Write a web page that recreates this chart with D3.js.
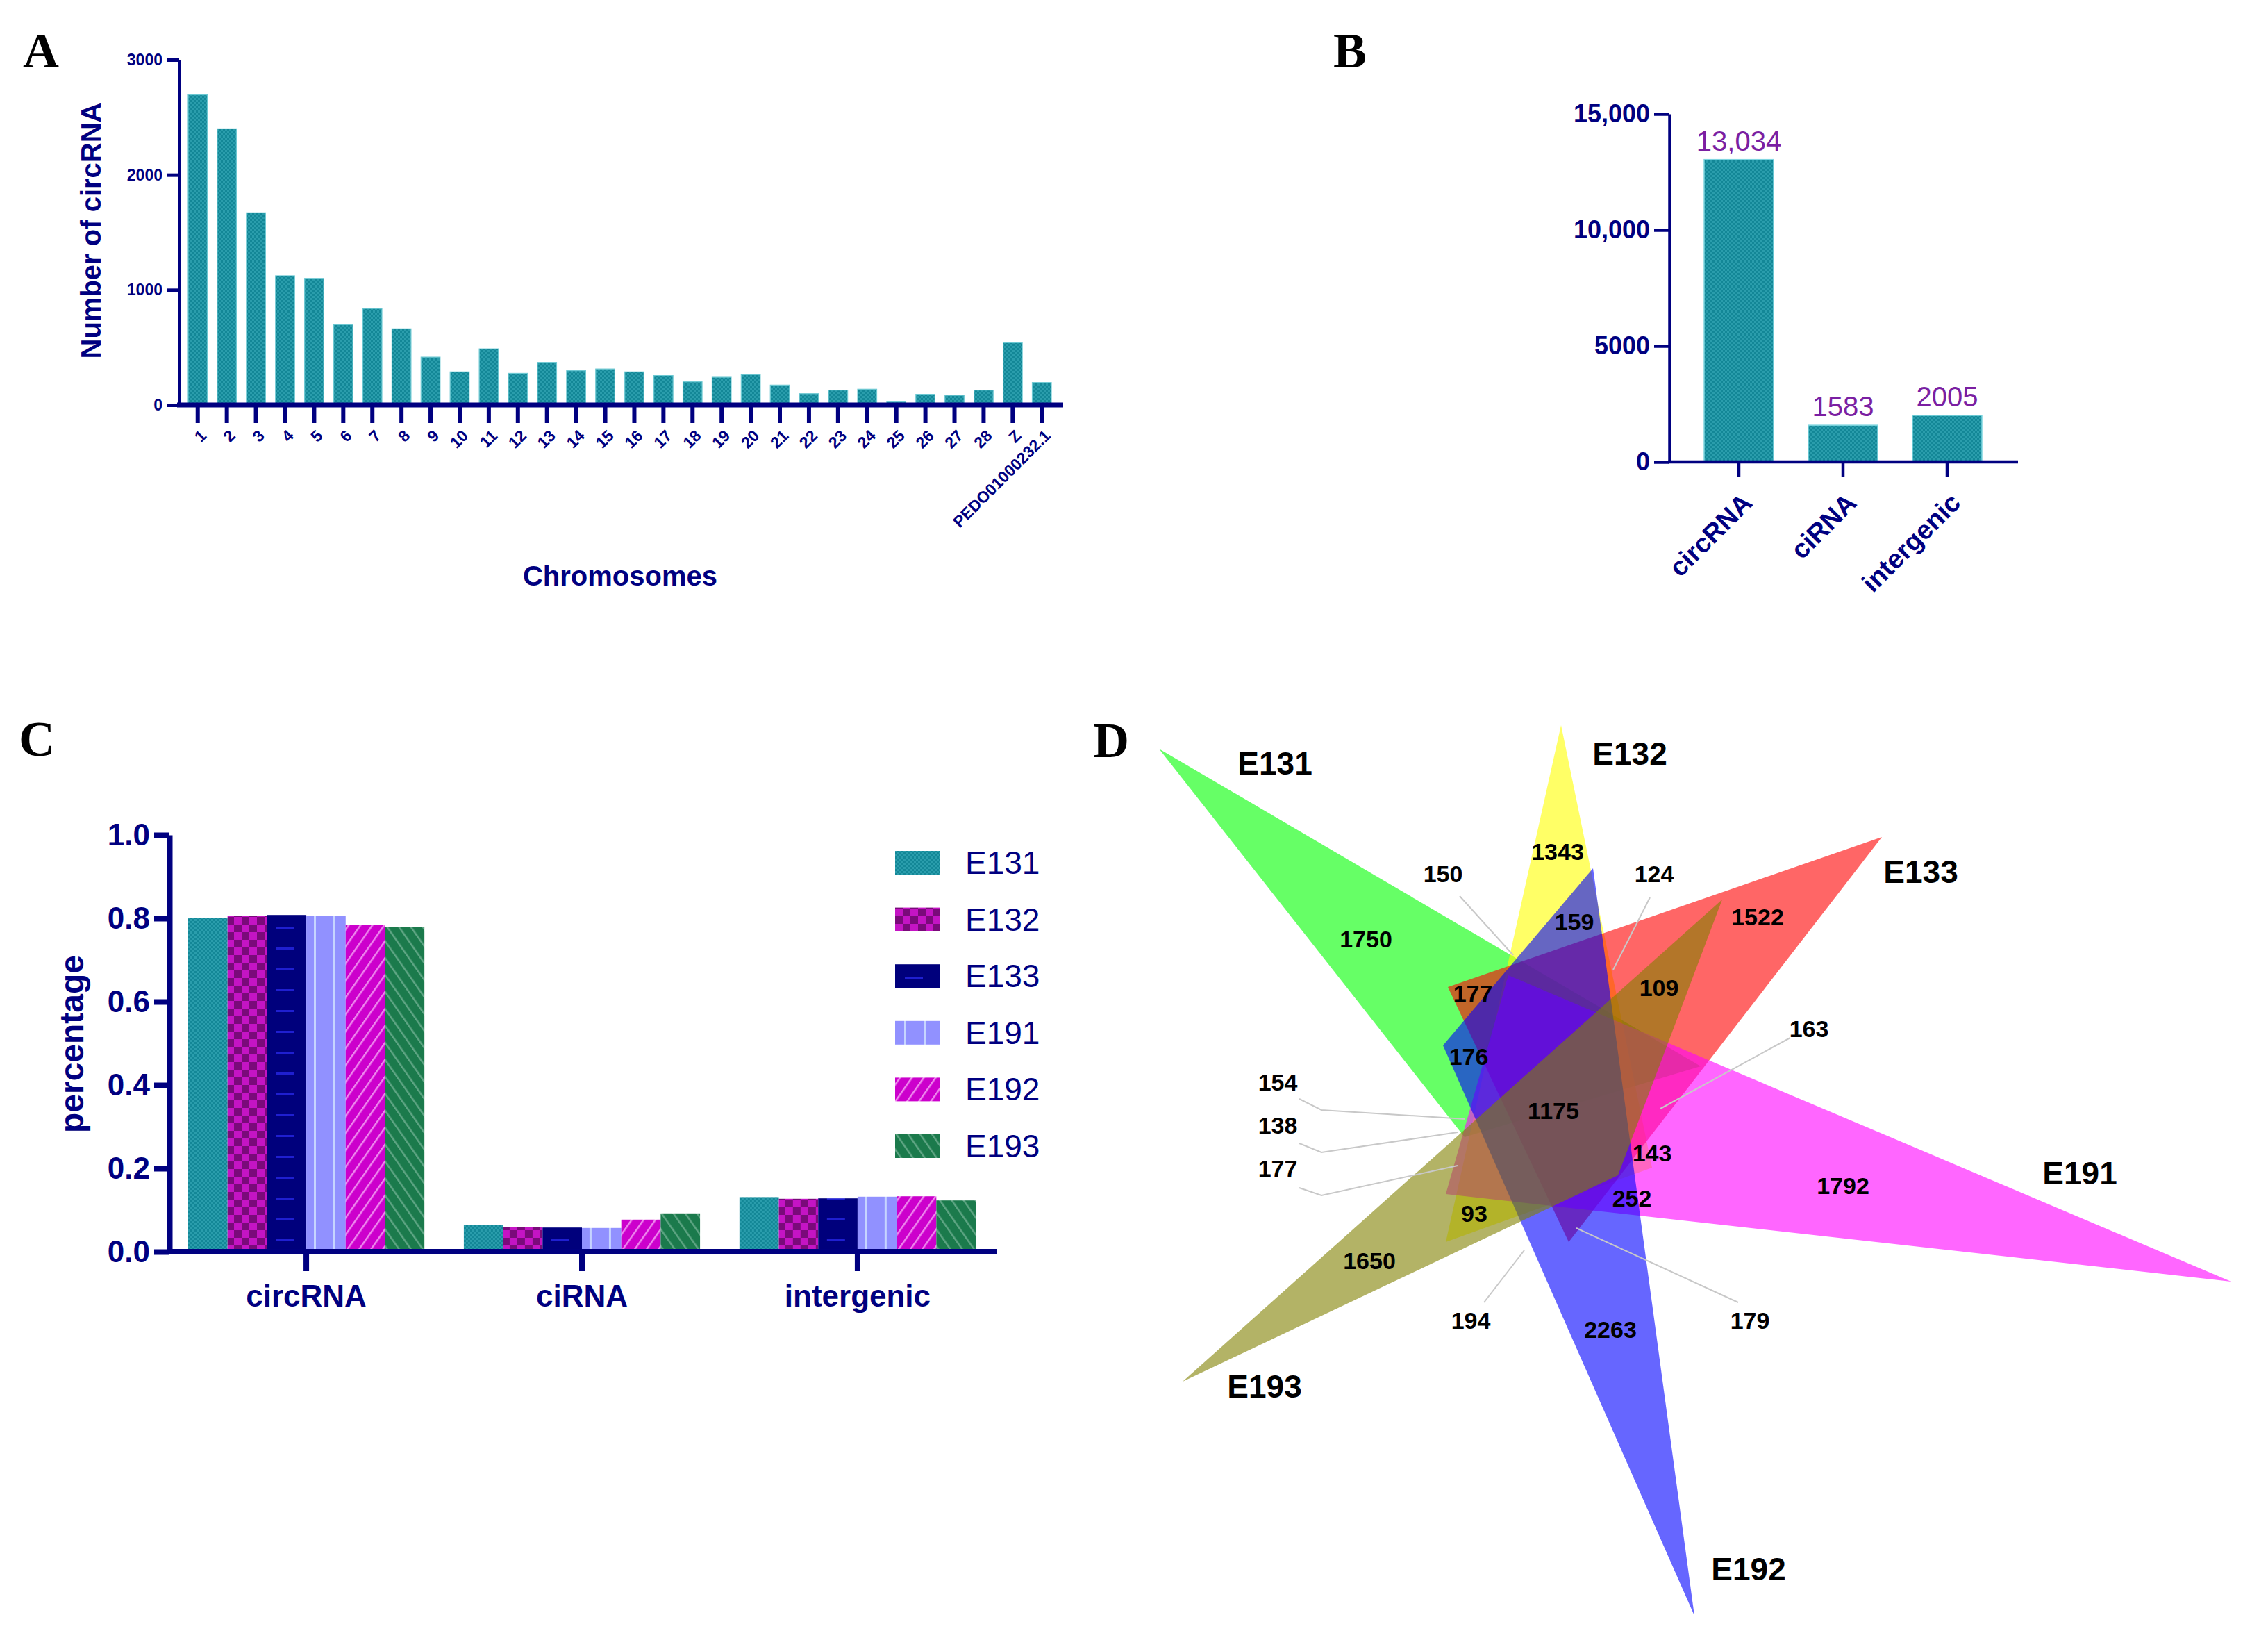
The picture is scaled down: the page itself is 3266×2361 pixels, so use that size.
<!DOCTYPE html>
<html>
<head>
<meta charset="utf-8">
<script src="https://cdn.jsdelivr.net/npm/d3@7"></script>
<style>
  html, body { margin: 0; padding: 0; background: #fff; }
  svg { display: block; }
</style>
</head>
<body>
<div id="chart"></div>
<script>
// ---- data ----
const chromosomes = ['1','2','3','4','5','6','7','8','9','10','11','12','13','14','15','16','17','18','19','20',
                     '21','22','23','24','25','26','27','28','Z','PEDO01000232.1'];
const circCounts = [2695, 2400, 1670, 1123, 1100, 698, 838, 662, 416, 288, 488, 275, 370, 298, 313, 288, 256, 201,
                    241, 264, 173, 98, 129, 137, 26, 93, 84, 129, 541, 195];

const rnaTypes = ['circRNA', 'ciRNA', 'intergenic'];
const typeTotals = [13034, 1583, 2005];

const samples = ['E131', 'E132', 'E133', 'E191', 'E192', 'E193'];
const pctCircRNA = [0.800, 0.806, 0.808, 0.805, 0.785, 0.779];
const pctCiRNA = [0.065, 0.060, 0.058, 0.057, 0.077, 0.092];
const pctIntergenic = [0.131, 0.127, 0.128, 0.132, 0.133, 0.123];

// venn region counts (set sizes exclusive + shared regions)
const vennCounts = ['1750', '1343', '1522', '1792', '2263', '1650', '1175', '159', '177', '109', '176', '143',
                    '252', '93', '150', '124', '163', '154', '138', '177', '194', '179'];

const NAVY = '#000080';
const SANS = '"Liberation Sans", Arial, sans-serif';
const SERIF = '"Liberation Serif", "Times New Roman", serif';

const W = 3266, H = 2361;
const svg = d3.select('#chart').append('svg').attr('width', W).attr('height', H);
svg.append('rect').attr('width', W).attr('height', H).attr('fill', '#fff');

// ---- patterns ----
const defs = svg.append('defs');
function pattern(id, w, h, bg) {
    const p = defs.append('pattern').attr('id', id).attr('patternUnits', 'userSpaceOnUse')
        .attr('width', w).attr('height', h);
    p.append('rect').attr('width', w).attr('height', h).attr('fill', bg);
    return p;
}
let p = pattern('pTeal', 6, 6, '#138797');
p.append('rect').attr('x', 0).attr('y', 0).attr('width', 3).attr('height', 3).attr('fill', '#2a9dac');
p.append('rect').attr('x', 3).attr('y', 3).attr('width', 3).attr('height', 3).attr('fill', '#2a9dac');

p = pattern('p132', 22, 22, '#7a0a7a');
p.append('rect').attr('x', 0).attr('y', 0).attr('width', 11).attr('height', 11).attr('fill', '#c414c4');
p.append('rect').attr('x', 11).attr('y', 11).attr('width', 11).attr('height', 11).attr('fill', '#c414c4');

p = pattern('p133', 56, 30, '#00007c');
p.append('rect').attr('x', 14).attr('y', 14).attr('width', 26).attr('height', 3).attr('fill', '#1f1fd0');

p = pattern('p191', 28, 40, '#9191ff');
p.append('rect').attr('x', 13).attr('y', 0).attr('width', 3).attr('height', 40).attr('fill', '#c6d4ff');

p = pattern('p192', 14, 14, '#cc00cc');
p.attr('patternTransform', 'rotate(35)');
p.append('rect').attr('x', 0).attr('y', 0).attr('width', 2.5).attr('height', 14).attr('fill', '#ee88ee');

p = pattern('p193', 14, 14, '#1b7a4c');
p.attr('patternTransform', 'rotate(-35)');
p.append('rect').attr('x', 0).attr('y', 0).attr('width', 2.5).attr('height', 14).attr('fill', '#5fa584');

const sampleFill = ['url(#pTeal)', 'url(#p132)', 'url(#p133)', 'url(#p191)', 'url(#p192)', 'url(#p193)'];

function styleAxis(g, w, fs, weight) {
    g.select('.domain').attr('stroke', NAVY).attr('stroke-width', w);
    g.selectAll('.tick line').attr('stroke', NAVY).attr('stroke-width', w);
    g.selectAll('.tick text').attr('fill', NAVY)
        .style('font-family', SANS).style('font-size', fs + 'px').style('font-weight', weight || 'bold');
}

function panelLetter(txt, x, y) {
    svg.append('text').attr('x', x).attr('y', y).attr('text-anchor', 'middle')
        .style('font-family', SERIF).style('font-weight', 'bold').style('font-size', '72px').text(txt);
}

// ---- A: circRNA per chromosome ----
panelLetter('A', 59, 97);
const xA = d3.scaleBand().domain(chromosomes).range([271, 1514]).paddingInner(0.344).paddingOuter(0);
const yA = d3.scaleLinear().domain([0, 3000]).range([583, 86]);
const gA = svg.append('g');

gA.selectAll('.barA').data(chromosomes).enter().append('rect')
    .attr('class', 'barA')
    .attr('x', d => xA(d))
    .attr('y', (d, i) => yA(circCounts[i]))
    .attr('width', xA.bandwidth())
    .attr('height', (d, i) => yA(0) - yA(circCounts[i]))
    .attr('fill', 'url(#pTeal)')
    .attr('stroke', '#6cc8d2').attr('stroke-width', 1.2);

const axA_y = gA.append('g').attr('transform', 'translate(258,0)')
    .call(d3.axisLeft(yA).tickValues([0, 1000, 2000, 3000]).tickFormat(d3.format('d'))
        .tickSize(18).tickSizeOuter(0).tickPadding(6));
styleAxis(axA_y, 5, 23);

const axA_x = gA.append('g').attr('transform', 'translate(0,583)')
    .call(d3.axisBottom(xA).tickSize(26).tickSizeOuter(0));
styleAxis(axA_x, 6, 23);
axA_x.select('.domain').attr('d', 'M255,0H1531').attr('stroke-width', 7);
axA_x.selectAll('.tick text')
    .attr('x', 0).attr('y', 0).attr('dy', '0.35em')
    .attr('transform', 'translate(8,40) rotate(-45)')
    .style('text-anchor', 'end');

gA.append('text').attr('transform', 'translate(131,332) rotate(-90)')
    .attr('text-anchor', 'middle').attr('dominant-baseline', 'central').attr('fill', NAVY)
    .style('font-family', SANS).style('font-weight', 'bold').style('font-size', '40px')
    .text('Number of circRNA');
gA.append('text').attr('x', 893).attr('y', 829)
    .attr('text-anchor', 'middle').attr('dominant-baseline', 'central').attr('fill', NAVY)
    .style('font-family', SANS).style('font-weight', 'bold').style('font-size', '40px')
    .text('Chromosomes');

// ---- B: totals by type ----
panelLetter('B', 1944, 97);
const xB = d3.scaleBand().domain(rnaTypes).range([2454, 2854]).paddingInner(1 / 3).paddingOuter(0);
const yB = d3.scaleLinear().domain([0, 15000]).range([665, 164]);
const gB = svg.append('g');

gB.selectAll('.barB').data(rnaTypes).enter().append('rect')
    .attr('class', 'barB')
    .attr('x', d => xB(d))
    .attr('y', (d, i) => yB(typeTotals[i]))
    .attr('width', xB.bandwidth())
    .attr('height', (d, i) => yB(0) - yB(typeTotals[i]))
    .attr('fill', 'url(#pTeal)')
    .attr('stroke', '#7fd6e0').attr('stroke-width', 1.5);

gB.selectAll('.valB').data(rnaTypes).enter().append('text')
    .attr('class', 'valB')
    .attr('x', d => xB(d) + xB.bandwidth() / 2)
    .attr('y', (d, i) => yB(typeTotals[i]) - 13)
    .attr('text-anchor', 'middle').attr('fill', '#7b1fa2')
    .style('font-family', SANS).style('font-size', '40px')
    .text((d, i) => typeTotals[i] >= 10000 ? d3.format(',')(typeTotals[i]) : typeTotals[i]);

const axB_y = gB.append('g').attr('transform', 'translate(2404,0)')
    .call(d3.axisLeft(yB).tickValues([0, 5000, 10000, 15000]).tickSize(22).tickSizeOuter(0).tickPadding(6)
        .tickFormat(d => d >= 10000 ? d3.format(',')(d) : d));
styleAxis(axB_y, 4.5, 36);

const axB_x = gB.append('g').attr('transform', 'translate(0,665)')
    .call(d3.axisBottom(xB).tickSize(22).tickSizeOuter(0));
styleAxis(axB_x, 4.5, 38);
axB_x.select('.domain').attr('d', 'M2402,0H2906');
axB_x.selectAll('.tick text')
    .attr('x', 0).attr('y', 0).attr('dy', '0.35em')
    .attr('transform', 'translate(12,52) rotate(-45)')
    .style('text-anchor', 'end');

// ---- C: percentage by sample ----
panelLetter('C', 53, 1088);
const x0 = d3.scaleBand().domain(rnaTypes).range([271, 1405]).paddingInner(0.143).paddingOuter(0);
const x1 = d3.scaleBand().domain(samples).range([0, x0.bandwidth()]).padding(0);
const yC = d3.scaleLinear().domain([0, 1]).range([1802, 1202]);
const pctByType = [pctCircRNA, pctCiRNA, pctIntergenic];
const gC = svg.append('g');

rnaTypes.forEach((t, ti) => {
    gC.append('g').attr('transform', `translate(${x0(t)},0)`)
        .selectAll('rect').data(samples).enter().append('rect')
        .attr('x', d => x1(d))
        .attr('y', (d, i) => yC(pctByType[ti][i]))
        .attr('width', x1.bandwidth())
        .attr('height', (d, i) => yC(0) - yC(pctByType[ti][i]))
        .attr('fill', (d, i) => sampleFill[i]);
});

const axC_y = gC.append('g').attr('transform', 'translate(244,0)')
    .call(d3.axisLeft(yC).tickValues([0, 0.2, 0.4, 0.6, 0.8, 1.0]).tickFormat(d3.format('.1f'))
        .tickSize(22).tickSizeOuter(0).tickPadding(6));
styleAxis(axC_y, 8, 44);

const axC_x = gC.append('g').attr('transform', 'translate(0,1802)')
    .call(d3.axisBottom(x0).tickSize(28).tickSizeOuter(0));
styleAxis(axC_x, 8, 44);
axC_x.select('.domain').attr('d', 'M240,0H1435');
axC_x.selectAll('.tick text').attr('y', 48).attr('dy', '0.71em');

gC.append('text').attr('transform', 'translate(103,1503) rotate(-90)')
    .attr('text-anchor', 'middle').attr('dominant-baseline', 'central').attr('fill', NAVY)
    .style('font-family', SANS).style('font-weight', 'bold').style('font-size', '48px')
    .text('percentage');

const legC = gC.append('g').attr('transform', 'translate(1289,1242)');
const legRow = d3.scalePoint().domain(samples).range([0, 5 * 81.6]);
legC.selectAll('rect').data(samples).enter().append('rect')
    .attr('x', 0).attr('y', d => legRow(d) - 17).attr('width', 64).attr('height', 34)
    .attr('fill', (d, i) => sampleFill[i]);
legC.selectAll('text').data(samples).enter().append('text')
    .attr('x', 101).attr('y', d => legRow(d)).attr('dominant-baseline', 'central').attr('fill', NAVY)
    .style('font-family', SANS).style('font-size', '46px')
    .text(d => d);

// ---- D: six-set triangle venn ----
panelLetter('D', 1600, 1090);
const xD = d3.scaleLinear().domain([0, 1666]).range([1600, 3266]);
const yD = d3.scaleLinear().domain([0, 1361]).range([1000, 2361]);
const vennSets = [
    { name: 'E131', color: '#00ff00', pts: [[69, 78], [849, 535], [509, 637]], label: [236, 99] },
    { name: 'E132', color: '#ffff00', pts: [[648, 44], [779, 681], [482, 788]], label: [747, 85] },
    { name: 'E133', color: '#ff0000', pts: [[1110, 205], [659, 788], [485, 421]], label: [1166, 255] },
    { name: 'E191', color: '#ff00ff', pts: [[1613, 845], [482, 719], [572, 404]], label: [1395, 689] },
    { name: 'E192', color: '#0000ff', pts: [[840, 1326], [478, 505], [694, 250]], label: [918, 1259] },
    { name: 'E193', color: '#808000', pts: [[103, 989], [880, 295], [730, 692]], label: [221, 996] }
];
const gD = svg.append('g');
const line = d3.line().x(d => xD(d[0])).y(d => yD(d[1])).curve(d3.curveLinearClosed);
gD.selectAll('.tri').data(vennSets).enter().append('path')
    .attr('class', 'tri')
    .attr('d', d => line(d.pts))
    .attr('fill', d => d.color).attr('fill-opacity', 0.6);

gD.selectAll('.setLabel').data(vennSets).enter().append('text')
    .attr('class', 'setLabel')
    .attr('x', d => xD(d.label[0])).attr('y', d => yD(d.label[1]))
    .attr('text-anchor', 'middle').attr('dominant-baseline', 'central')
    .style('font-family', SANS).style('font-weight', 'bold').style('font-size', '46px')
    .text(d => d.name);

// label anchor positions for each count, same order as vennCounts
const countPos = [[367, 352], [643, 226], [931, 320], [1054, 707], [719, 914], [372, 815], [637, 599],
                  [667, 327], [521, 430], [789, 422], [515, 521], [779, 660], [750, 725], [523, 747],
                  [478, 258], [782, 258], [1005, 481], [240, 558], [240, 620], [240, 682], [518, 901], [920, 901]];
// leader lines for the small outer counts (index into vennCounts)
const leaders = [
    { i: 14, pts: [[502, 290], [579, 375]] },
    { i: 15, pts: [[776, 292], [723, 396]] },
    { i: 16, pts: [[978, 494], [791, 596]] },
    { i: 17, pts: [[271, 582], [303, 598], [510, 611]] },
    { i: 18, pts: [[271, 646], [303, 659], [499, 630]] },
    { i: 19, pts: [[271, 710], [303, 721], [499, 678]] },
    { i: 20, pts: [[537, 875], [595, 800]] },
    { i: 21, pts: [[903, 875], [670, 768]] }
];
const openLine = d3.line().x(d => xD(d[0])).y(d => yD(d[1]));
gD.selectAll('.leader').data(leaders).enter().append('path')
    .attr('class', 'leader')
    .attr('d', d => openLine(d.pts))
    .attr('fill', 'none').attr('stroke', '#c8c8c8').attr('stroke-width', 2);

gD.selectAll('.count').data(vennCounts).enter().append('text')
    .attr('class', 'count')
    .attr('x', (d, i) => xD(countPos[i][0])).attr('y', (d, i) => yD(countPos[i][1]))
    .attr('text-anchor', 'middle').attr('dominant-baseline', 'central')
    .style('font-family', SANS).style('font-weight', 'bold').style('font-size', '34px')
    .text(d => d);
</script>
</body>
</html>
